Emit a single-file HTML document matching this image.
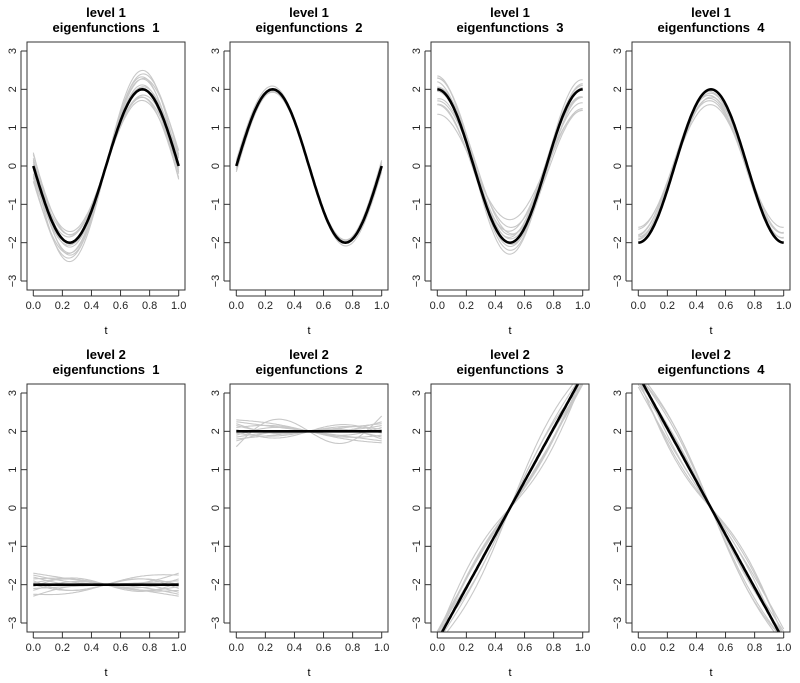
<!DOCTYPE html>
<html><head><meta charset="utf-8"><style>
body{margin:0;background:#fff}
svg{display:block;font-family:"Liberation Sans",Arial,sans-serif}
.ttl{white-space:pre}
</style></head><body>
<svg id="chart" width="800" height="683" viewBox="0 0 800 683"></svg>
<script>
// Panel definitions (data)
const panelLevels = [1,1,1,1,2,2,2,2];
const panelNumbers = [1,2,3,4,1,2,3,4];
const xTicks = [0,0.2,0.4,0.6,0.8,1.0];
const xTickLabels = ["0.0","0.2","0.4","0.6","0.8","1.0"];
const yTicks = [-3,-2,-1,0,1,2,3];
const yTickLabels = ["−3","−2","−1","0","1","2","3"];
// gray curve perturbations per panel: [amplitude, tilt, bump]
const grayP1 = [[0.88,0.1,0],[0.9,-0.2,0.05],[0.95,0.3,-0.05],[1.0,-0.1,0.05],[1.05,0.2,0],[1.1,-0.3,-0.05],[1.15,0,0.03],[1.2,0.15,0],[1.22,-0.05,-0.03],[0.92,0,0.05],[1.08,0.05,0.02],[0.97,-0.25,0],[1.12,0.35,0.03],[1.03,-0.4,-0.02]];
const grayP2 = [[0.95,0.05,0],[0.97,-0.05,0.05],[1.0,0.1,-0.05],[1.02,-0.1,0],[0.98,0.15,0.05],[1.01,-0.15,0],[0.96,0,0.08],[0.99,0.08,-0.08]];
const grayP3 = [[0.7,-0.05,0],[0.8,0.1,0.05],[0.85,-0.1,-0.05],[0.9,0.15,0],[0.95,-0.15,0.1],[1.0,0.2,-0.1],[1.05,-0.05,0.05],[1.1,0.1,0],[1.15,0.05,-0.05],[0.88,0.3,0.1],[0.93,-0.25,0],[1.02,0.25,0.05]];
const grayP4 = [[0.8,0,0.05],[0.85,0.05,0.1],[0.9,-0.05,0],[0.92,0.02,0.15],[0.95,-0.02,0.05],[0.97,0.04,0.1],[1.0,0,0.08],[0.88,-0.03,0.12]];
const grayP5 = [[1,0.3,0],[1,-0.3,0.1],[1,0.2,-0.1],[1,-0.15,0.15],[1,0.1,-0.2],[1,-0.1,0],[1,0.05,0.12],[1,-0.25,-0.1],[1,0.15,0.08],[1,0,-0.15],[1,-0.05,0.2],[1,0.25,-0.05]];
const grayP6 = [[1,0.25,0],[1,-0.25,0.1],[1,0.15,-0.1],[1,-0.1,0.15],[1,0.05,-0.2],[1,-0.2,0],[1,0.1,0.1],[1,-0.05,-0.1],[1,0.3,0.05],[1,-0.4,0.5],[1,0.2,-0.15],[1,-0.15,0.05]];
const grayP7 = [[1,0,0.3],[0.95,0.05,-0.3],[0.97,-0.05,0.2],[1.02,0.03,-0.2],[0.93,0,0.1],[0.98,0.05,0.4],[1.0,-0.08,-0.4],[0.96,0.02,0.15],[0.92,-0.03,-0.1],[1.01,0.06,0.25]];
const grayP8 = [[1,0,0.3],[0.95,0.05,-0.3],[0.97,-0.05,0.2],[1.02,0.03,-0.25],[0.93,0,0.1],[0.98,0.05,0.4],[1.0,-0.08,-0.4],[0.96,0.02,0.15],[0.92,-0.03,-0.1],[1.01,0.06,0.35]];
const grayCurves = [grayP1,grayP2,grayP3,grayP4,grayP5,grayP6,grayP7,grayP8];

const bases = [
  t=>-2*Math.sin(2*Math.PI*t), t=>2*Math.sin(2*Math.PI*t),
  t=>2*Math.cos(2*Math.PI*t), t=>-2*Math.cos(2*Math.PI*t),
  t=>-2, t=>2, t=>3.464*(2*t-1), t=>-3.464*(2*t-1)
];

const NS="http://www.w3.org/2000/svg";
const svg=document.getElementById('chart');
function mk(tag,attrs,parent){const e=document.createElementNS(NS,tag);for(const k in attrs)e.setAttribute(k,attrs[k]);(parent||svg).appendChild(e);return e;}

const colLeft=[27,230,431,632], boxW=158, rowTop=[42,384], boxH=248;
for(let p=0;p<8;p++){
  const c=p%4, r=Math.floor(p/4);
  const L=colLeft[c], T=rowTop[r], R=L+boxW, B=T+boxH;
  const xS=v=>L+6.3+v*(boxW-12.6);
  const yS=v=>T+9+(3-v)*(boxH-18)/6;
  const g=mk('g',{});
  
  
  const clipId='clip'+p;
  const cp=mk('clipPath',{id:clipId},g); mk('rect',{x:L,y:T,width:boxW,height:boxH},cp);
  const t1=mk('text',{x:L+boxW/2,y:T-25,'text-anchor':'middle','font-size':13,'font-weight':'bold'},g);
  t1.textContent='level '+panelLevels[p];
  
  
  const t2=mk('text',{x:L+boxW/2,y:T-10,'text-anchor':'middle','font-size':13,'font-weight':'bold','class':'ttl'},g);
  t2.textContent='eigenfunctions  '+panelNumbers[p];
  
  
  const plot=mk('g',{'clip-path':'url(#'+clipId+')'},g);
  const base=bases[p];
  grayCurves[p].forEach(([a,b,cc])=>{
    let d='';
    for(let i=0;i<=100;i++){const t=i/100;const v=a*base(t)+b*(1-2*t)+cc*(Math.sin(2*Math.PI*t));d+=(i?'L':'M')+xS(t).toFixed(1)+','+yS(v).toFixed(1);}
    const pa=mk('path',{d:d,fill:'none',stroke:'#c8c8c8','stroke-width':1.1},plot);
    
    
  });
  let d='';
  for(let i=0;i<=100;i++){const t=i/100;d+=(i?'L':'M')+xS(t).toFixed(1)+','+yS(base(t)).toFixed(1);}
  const mp=mk('path',{d:d,fill:'none',stroke:'#000','stroke-width':2.6},plot);
  
  
  const box=mk('rect',{x:L,y:T,width:boxW,height:boxH,fill:'none',stroke:'#333','stroke-width':1},g);
  
  
  xTicks.forEach((v,i)=>{
    mk('line',{x1:xS(v),x2:xS(v),y1:B,y2:B+6,stroke:'#333'},g);
    const tl=mk('text',{x:xS(v),y:B+19,'text-anchor':'middle','font-size':11,fill:'#222'},g);
    tl.textContent=xTickLabels[i];
    
    
  });
  mk('line',{x1:xS(0),x2:xS(1),y1:B+6,y2:B+6,stroke:'#333'},g);
  yTicks.forEach((v,i)=>{
    if(yS(v)<T||yS(v)>B)return;
    mk('line',{x1:L-6,x2:L,y1:yS(v),y2:yS(v),stroke:'#333'},g);
    const tl=mk('text',{x:L-11,y:yS(v),'text-anchor':'middle','font-size':11,fill:'#222',transform:'rotate(-90 '+(L-11)+' '+yS(v)+')'},g);
    tl.textContent=yTickLabels[i];
    
    
  });
  mk('line',{x1:L-6,x2:L-6,y1:Math.max(yS(3),T),y2:Math.min(yS(-3),B),stroke:'#333'},g);
  const xl=mk('text',{x:L+boxW/2,y:B+44,'text-anchor':'middle','font-size':11},g);
  xl.textContent='t';
  
  
}
</script>
</body></html>
